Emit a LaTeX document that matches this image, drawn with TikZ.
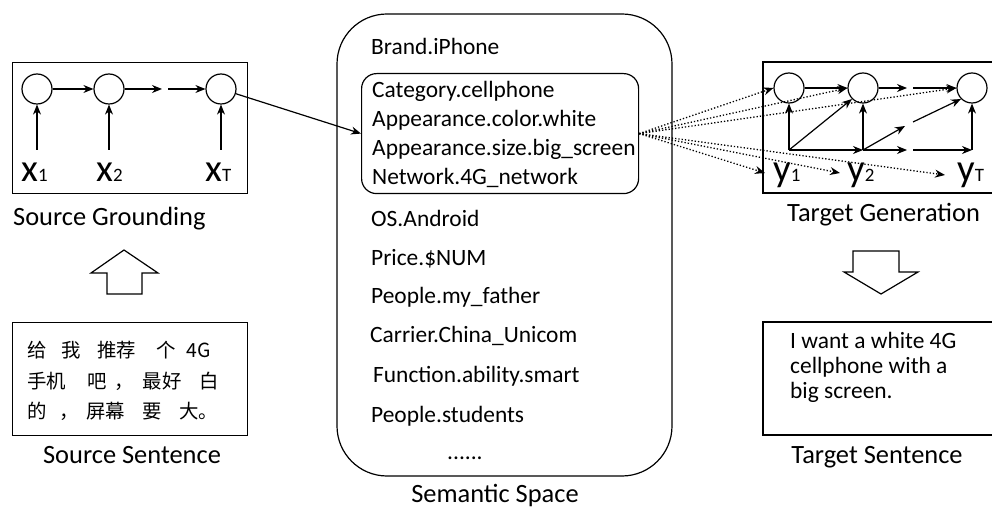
\documentclass[tikz,border=0pt]{standalone}
\usepackage{fontspec}
\setmainfont{Carlito}
\newfontfamily\cjk{Noto Sans CJK SC}
\usetikzlibrary{arrows.meta}
\tikzset{
  box/.style={draw, line width=1.2bp},
  circ/.style={circle, draw, line width=1.2bp, minimum size=30bp, inner sep=0pt},
  arr/.style={line width=1.2bp, -{Stealth[length=10bp,width=8bp]}},
  dotarr/.style={line width=1.3bp, dotted, -{Stealth[length=10bp,width=8bp]}},
  txt/.style={inner sep=0pt, anchor=base west, font=\fontsize{23.5}{28}\selectfont},
  lab/.style={inner sep=0pt, font=\fontsize{26.5}{30}\selectfont},
  cjktxt/.style={inner sep=0pt, anchor=base west, font=\cjk\fontsize{19.5}{24}\selectfont},
  var/.style={inner sep=0pt, anchor=base west},
  hollow/.style={draw, line width=1.2bp, fill=white}
}
\newcommand{\vlab}[2]{{\fontsize{39}{39}\selectfont #1}{\fontsize{19}{19}\selectfont #2}}
\begin{document}
\begin{tikzpicture}[x=1bp,y=-1bp]
\useasboundingbox (0,0) rectangle (992,509);

% ---------- Source grounding ----------
\node[box, minimum width=235bp, minimum height=131bp, anchor=north west, inner sep=0pt] (sbox) at (12,62) {};
\node[circ] (s1) at (37,89) {};
\node[circ] (s2) at (109,89) {};
\node[circ] (s3) at (221,89) {};
\coordinate (sm1) at (162,89);
\coordinate (sm2) at (168,89);
\coordinate (sx1) at (37,150);
\coordinate (sx2) at (109,150);
\coordinate (sx3) at (221,150);
\draw[arr] (s1) -- (s2);
\draw[arr] (s2) -- (sm1);
\draw[arr] (sm2) -- (s3);
\draw[arr] (sx1) -- (s1);
\draw[arr] (sx2) -- (s2);
\draw[arr] (sx3) -- (s3);
\node[var] (x1) at (21,182) {\vlab{x}{1}};
\node[var] (x2) at (96,182) {\vlab{x}{2}};
\node[var] (xT) at (205,182) {\vlab{x}{T}};
\node[lab, anchor=base west] (sglab) at (13,226) {Source Grounding};

% ---------- Source sentence ----------
\draw[hollow] (107,294) -- (107,273) -- (91,273) -- (124,250) -- (158,273) -- (142,273) -- (142,294) -- cycle;
\node[box, minimum width=235bp, minimum height=113bp, anchor=north west, inner sep=0pt] (ssent) at (12,322) {};
\node[cjktxt] (c1) at (27,358) {给\hspace{15bp}我\hspace{16bp}推荐\hspace{21bp}个\hspace{10bp}4G};
\node[cjktxt] (c2) at (27,388) {手机\hspace{21bp}吧\hspace{8bp}，\hspace{9bp}最好\hspace{18bp}白};
\node[cjktxt] (c3) at (27,418) {的\hspace{13bp}，\hspace{7bp}屏幕\hspace{18bp}要\hspace{17bp}大。};
\node[lab, anchor=base] (sslab) at (132,463) {Source Sentence};

% ---------- Semantic space ----------
\draw[box, rounded corners=50bp] (337,14) rectangle (672,476);
\node[txt] (brand) at (371,55) {Brand.iPhone};
\node[box, rounded corners=15bp, minimum width=277bp, minimum height=120bp, anchor=north west, inner sep=0pt] (inner) at (361,73) {};
\node[txt] (cat) at (372,98) {Category.cellphone};
\node[txt] (col) at (372,127) {Appearance.color.white};
\node[txt] (siz) at (372,156) {Appearance.size.big\_screen};
\node[txt] (net) at (372,185) {Network.4G\_network};
\node[txt] (os) at (371,227) {OS.Android};
\node[txt] (price) at (371,266) {Price.\$NUM};
\node[txt] (father) at (371,304) {People.my\_father};
\node[txt] (carrier) at (370,343) {Carrier.China\_Unicom};
\node[txt] (func) at (373,383) {Function.ability.smart};
\node[txt] (stud) at (371,422) {People.students};
\node[txt] (dots) at (447,459) {......};
\node[lab, anchor=base] (semlab) at (495,502) {Semantic Space};

\draw[arr] (s3) -- (inner.west);

% ---------- Target generation ----------
\draw[box] (1000,62) -- (763,62) -- (763,193) -- (1000,193);
\node[circ] (t1) at (789,88) {};
\node[circ] (t2) at (863,88) {};
\node[circ] (t3) at (972,88) {};
\coordinate (b1) at (789,150);
\coordinate (b2) at (863,150);
\coordinate (b3) at (972,150);
\coordinate (tm1) at (907,88);
\coordinate (tm2) at (913,88);
\coordinate (bm1) at (907,150);
\coordinate (bm2) at (913,150);
\coordinate (dm1) at (905,126);
\coordinate (dm2) at (913,122);
\draw[arr] (t1) -- (t2);
\draw[arr] (t2) -- (tm1);
\draw[arr] (tm2) -- (t3);
\draw[arr] (b1) -- (t1);
\draw[arr] (b2) -- (t2);
\draw[arr] (b3) -- (t3);
\draw[arr] (b1) -- (b2);
\draw[arr] (b2) -- (bm1);
\draw[arr] (bm2) -- (b3);
\draw[arr] (b1) -- (t2.south west);
\draw[arr] (b2) -- (dm1);
\draw[arr] (dm2) -- (t3.south west);
\node[var] (y1) at (773,182) {\vlab{y}{1}};
\node[var] (y2) at (847,182) {\vlab{y}{2}};
\node[var] (yT) at (957,182) {\vlab{y}{T}};
\coordinate (ey1) at (765,173);
\coordinate (ey2) at (840,173);
\coordinate (eyT) at (945,175);
\node[lab, anchor=base west] (tglab) at (787,222) {Target Generation};

\draw[dotarr] (inner.east) -- (t1.west);
\draw[dotarr] (inner.east) -- (t2.west);
\draw[dotarr] (inner.east) -- (t3.west);
\draw[dotarr] (inner.east) -- (ey1);
\draw[dotarr] (inner.east) -- (ey2);
\draw[dotarr] (inner.east) -- (eyT);

% ---------- Target sentence ----------
\draw[hollow] (853,251) -- (899,251) -- (899,272) -- (918,272) -- (881,294) -- (844,272) -- (853,272) -- cycle;
\draw[box] (1000,322) -- (763,322) -- (763,435) -- (1000,435);
\node[txt] (ts1) at (790,349) {I want a white 4G};
\node[txt] (ts2) at (790,373.5) {cellphone with a};
\node[txt] (ts3) at (790,398) {big screen.};
\node[lab, anchor=base] (tslab) at (877,463) {Target Sentence};
\end{tikzpicture}
\end{document}
